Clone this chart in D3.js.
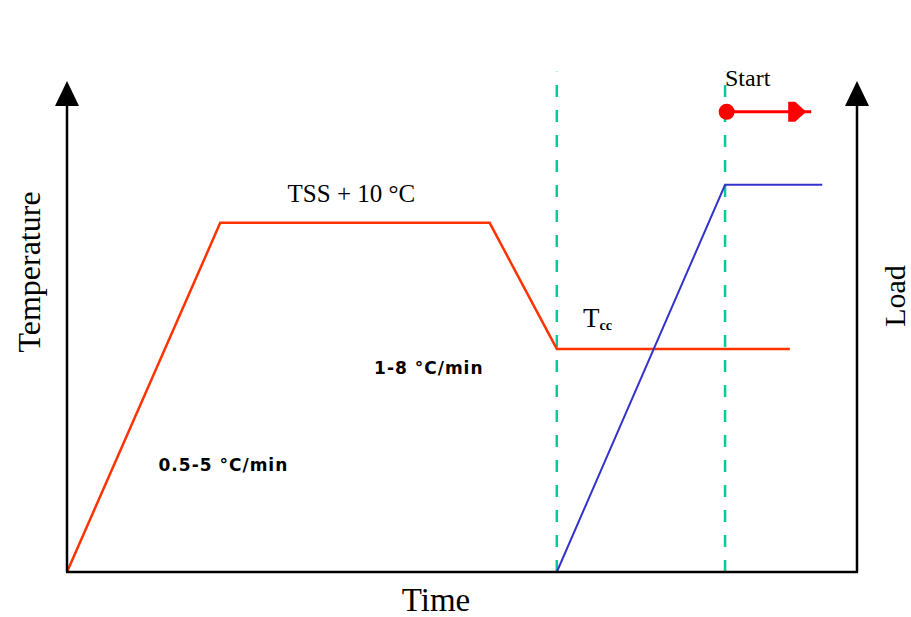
<!DOCTYPE html>
<html><head><meta charset="utf-8">
<script src="https://cdn.jsdelivr.net/npm/d3@7"></script>
<style>body{margin:0;background:#fff}svg{display:block}</style>
</head><body>
<script>
// Schematic data (arbitrary units: time 0-100, value 0-100)
const tempTime  = [0, 19.4, 53.5, 62.0, 91.5];
const tempValue = [0, 71.7, 71.7, 45.8, 45.8];
const loadTime  = [62.0, 83.3, 95.6];
const loadValue = [0, 79.5, 79.5];
const markerTimes = [62.0, 83.3];
const startArrow = {t0: 83.5, t1: 94.2, v: 94.5};
const labels = [
  {text: "TSS + 10 °C", t: 36.0, v: 76.0, cls: "serif"},
  {text: "1-8 °C/min", t: 45.8, v: 40.6, cls: "sans"},
  {text: "0.5-5 °C/min", t: 19.8, v: 20.8, cls: "sans"}
];

const W = 911, H = 617;
const svg = d3.select("body").append("svg").attr("width", W).attr("height", H);
const x = d3.scaleLinear().domain([0, 100]).range([67, 857]);
const y = d3.scaleLinear().domain([0, 100]).range([572, 85]);

// dashed markers
svg.selectAll("line.mark").data(markerTimes).enter().append("line")
  .attr("x1", d => x(d)).attr("x2", d => x(d))
  .attr("y1", y(0)).attr("y2", y(102.7))
  .attr("stroke", "#00CC99").attr("stroke-width", 2.5)
  .attr("stroke-dasharray", "12,13");

const line = d3.line().x(d => x(d[0])).y(d => y(d[1]));
svg.append("path").datum(tempTime.map((t, i) => [t, tempValue[i]]))
  .attr("d", line).attr("fill", "none").attr("stroke", "#FF3300").attr("stroke-width", 2.5);
svg.append("path").datum(loadTime.map((t, i) => [t, loadValue[i]]))
  .attr("d", line).attr("fill", "none").attr("stroke", "#3333CC").attr("stroke-width", 2);

// axes
const ax = svg.append("g").attr("stroke", "#000").attr("stroke-width", 2.5);
ax.append("line").attr("x1", x(0)).attr("x2", x(0)).attr("y1", y(0)).attr("y2", y(97));
ax.append("line").attr("x1", x(100)).attr("x2", x(100)).attr("y1", y(0)).attr("y2", y(97));
ax.append("line").attr("x1", x(0) - 1).attr("x2", x(100) + 1).attr("y1", y(0)).attr("y2", y(0));
[0, 100].forEach(t => {
  const cx = x(t);
  svg.append("path").attr("d", `M${cx},81 L${cx - 12},106 L${cx + 12},106 Z`).attr("fill", "#000");
});

// start arrow
const ay = y(startArrow.v);
svg.append("line").attr("x1", x(startArrow.t0)).attr("x2", x(startArrow.t1))
  .attr("y1", ay).attr("y2", ay)
  .attr("stroke", "#FF0000").attr("stroke-width", 3);
svg.append("circle").attr("cx", x(startArrow.t0)).attr("cy", ay).attr("r", 8).attr("fill", "#FF0000");
const ah = x(startArrow.t1);
svg.append("path").attr("d", `M${ah - 23},${ay - 10} L${ah - 16},${ay - 10} L${ah - 5},${ay} L${ah - 16},${ay + 10} L${ah - 23},${ay + 10} Z`).attr("fill", "#FF0000");

// labels
svg.selectAll("text.lab").data(labels).enter().append("text")
  .attr("x", d => x(d.t)).attr("y", d => y(d.v))
  .attr("text-anchor", "middle")
  .attr("font-family", d => d.cls === "serif" ? "Liberation Serif" : "DejaVu Sans")
  .attr("font-size", d => d.cls === "serif" ? 25 : 17)
  .attr("font-weight", d => d.cls === "serif" ? "normal" : "bold")
  .attr("letter-spacing", d => d.cls === "serif" ? 0 : 1)
  .text(d => d.text);

const tcc = svg.append("text").attr("x", 583).attr("y", y(50.3))
  .attr("font-family", "Liberation Serif").attr("font-size", 27);
tcc.append("tspan").text("T");
tcc.append("tspan").attr("font-size", 14).attr("dy", 3).attr("font-weight", "bold").text("cc");

svg.append("text").attr("x", 725).attr("y", 86).attr("font-family", "Liberation Serif")
  .attr("font-size", 24).text("Start");
svg.append("text").attr("x", 436).attr("y", 611).attr("text-anchor", "middle")
  .attr("font-family", "Liberation Serif").attr("font-size", 33).text("Time");
svg.append("text").attr("transform", "translate(40,272) rotate(-90)").attr("text-anchor", "middle")
  .attr("font-family", "Liberation Serif").attr("font-size", 32).text("Temperature");
svg.append("text").attr("transform", "translate(905,296) rotate(-90)").attr("text-anchor", "middle")
  .attr("font-family", "Liberation Serif").attr("font-size", 30).text("Load");
</script>
</body></html>
